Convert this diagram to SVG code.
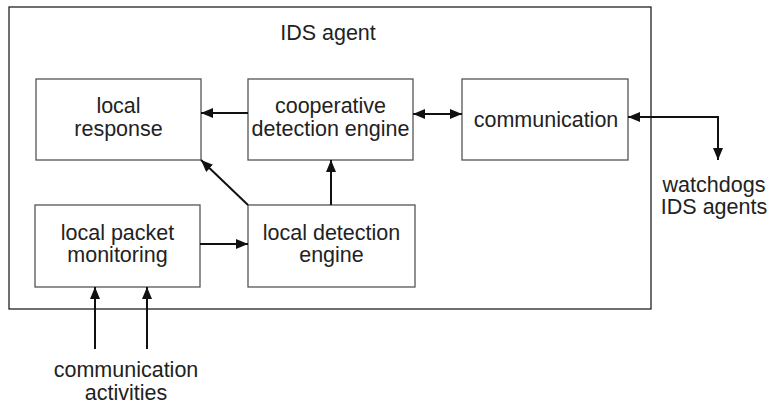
<svg xmlns="http://www.w3.org/2000/svg" width="778" height="407" viewBox="0 0 778 407">
<style>
.box{fill:#fff;stroke:#555;stroke-width:1.3}
.outer{fill:#fff;stroke:#222;stroke-width:1.3}
text{font-family:"Liberation Sans",Arial,sans-serif;font-size:21.5px;fill:#222;text-anchor:middle}
.c{stroke:#111;stroke-width:2;fill:none}
</style>
<defs>
<marker id="ah" viewBox="0 0 12 10" refX="12" refY="5" markerWidth="12" markerHeight="10" markerUnits="userSpaceOnUse" orient="auto-start-reverse">
<path d="M0,0 L12,5 L0,10 z" fill="#111"/>
</marker>
</defs>
<g id="agent"><rect class="outer" x="9" y="7" width="642" height="302"/><text x="328" y="40">IDS agent</text></g>
<g id="local-response"><rect class="box" x="36" y="79" width="165" height="81"/><text x="118.5" y="113">local</text><text x="118.5" y="135.5">response</text></g>
<g id="cooperative"><rect class="box" x="248" y="79" width="165" height="81"/><text x="330.5" y="113">cooperative</text><text x="330.5" y="135.5">detection engine</text></g>
<g id="communication"><rect class="box" x="462" y="79" width="166" height="81"/><text x="546" y="127">communication</text></g>
<g id="packet-monitoring"><rect class="box" x="35" y="205" width="165" height="82"/><text x="117.5" y="240">local packet</text><text x="117.5" y="262">monitoring</text></g>
<g id="local-detection"><rect class="box" x="248" y="205" width="167" height="82"/><text x="331.5" y="240">local detection</text><text x="331.5" y="262">engine</text></g>
<g id="watchdogs"><text x="714" y="192">watchdogs</text><text x="714" y="214">IDS agents</text></g>
<g id="activities"><text x="126" y="377">communication</text><text x="126" y="400">activities</text></g>
<g id="connectors">
<line class="c" x1="248" y1="113" x2="201" y2="113" marker-end="url(#ah)"/>
<line class="c" x1="248" y1="205" x2="201" y2="160" marker-end="url(#ah)"/>
<line class="c" x1="331" y1="205" x2="331" y2="160" marker-end="url(#ah)"/>
<line class="c" x1="413" y1="114" x2="462" y2="114" marker-start="url(#ah)" marker-end="url(#ah)"/>
<polyline class="c" points="628,117 718,117 718,160" marker-start="url(#ah)" marker-end="url(#ah)"/>
<line class="c" x1="200" y1="244" x2="248" y2="244" marker-end="url(#ah)"/>
<line class="c" x1="95" y1="349" x2="95" y2="287" marker-end="url(#ah)"/>
<line class="c" x1="147" y1="349" x2="147" y2="287" marker-end="url(#ah)"/>
</g>
</svg>
